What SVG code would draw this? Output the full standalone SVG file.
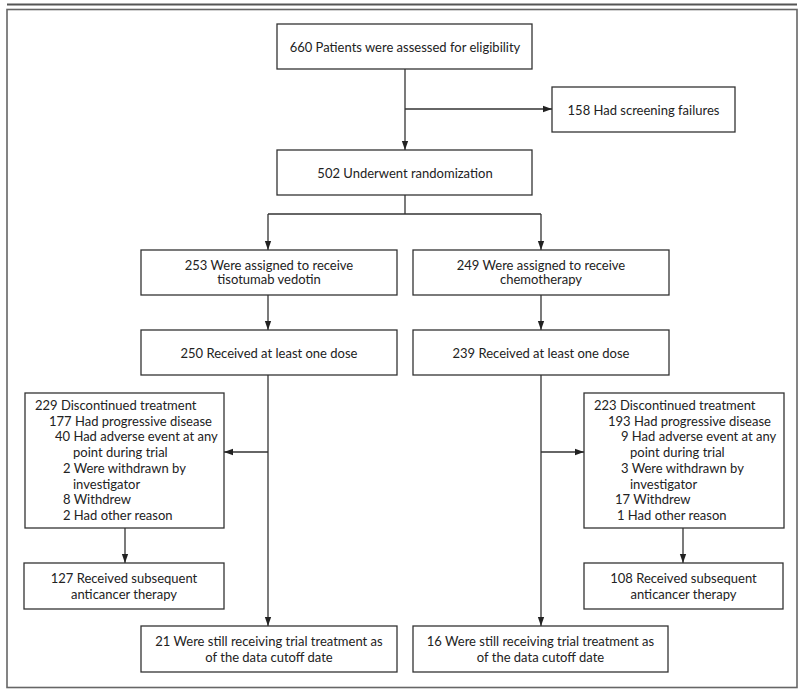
<svg xmlns="http://www.w3.org/2000/svg" width="802" height="690" viewBox="0 0 802 690">
<defs>
<marker id="ah" viewBox="0 0 10 10" refX="10" refY="5" markerWidth="9" markerHeight="9" markerUnits="userSpaceOnUse" orient="auto">
<path d="M0,1.5 L10,5 L0,8.5 z" fill="#222"/>
</marker>
</defs>
<style>
.bx{fill:#fff;stroke:#333;stroke-width:1.3}
.t{font-family:Lato,"Liberation Sans",sans-serif;font-size:13px;fill:#222}
.c{text-anchor:middle}
.ln{fill:none;stroke:#333;stroke-width:1.3}
.ar{fill:none;stroke:#333;stroke-width:1.3;marker-end:url(#ah)}
</style>
<rect width="802" height="690" fill="#fff"/>
<line x1="7" y1="4.5" x2="797" y2="4.5" stroke="#555" stroke-width="2"/>
<rect x="7" y="9.5" width="790" height="678" fill="none" stroke="#666" stroke-width="1.6"/>

<g id="connectors">
<line class="ar" x1="405" y1="69" x2="405" y2="150"/>
<line class="ar" x1="405" y1="109" x2="552" y2="109"/>
<polyline class="ln" points="405,195 405,214"/>
<line class="ln" x1="268" y1="214" x2="541" y2="214"/>
<line class="ar" x1="268" y1="214" x2="268" y2="250"/>
<line class="ar" x1="541" y1="214" x2="541" y2="250"/>
<line class="ar" x1="268" y1="295" x2="268" y2="330"/>
<line class="ar" x1="541" y1="295" x2="541" y2="330"/>
<line class="ar" x1="268" y1="375" x2="268" y2="626"/>
<line class="ar" x1="541" y1="375" x2="541" y2="626"/>
<line class="ar" x1="268" y1="452" x2="224" y2="452"/>
<line class="ar" x1="541" y1="452" x2="584" y2="452"/>
<line class="ar" x1="125" y1="528" x2="125" y2="563"/>
<line class="ar" x1="683" y1="528" x2="683" y2="563"/>
</g>

<g id="n660"><rect class="bx" x="277" y="24" width="255" height="45"/><text class="t c" x="405" y="51.5">660 Patients were assessed for eligibility</text></g>
<g id="n158"><rect class="bx" x="552" y="87" width="183" height="45"/><text class="t c" x="643.5" y="114.5">158 Had screening failures</text></g>
<g id="n502"><rect class="bx" x="277" y="150" width="255" height="45"/><text class="t c" x="405" y="177.5">502 Underwent randomization</text></g>
<g id="n253"><rect class="bx" x="141" y="250" width="256" height="45"/><text class="t c" x="269" y="269.5">253 Were assigned to receive</text><text class="t c" x="269" y="284">tisotumab vedotin</text></g>
<g id="n249"><rect class="bx" x="413" y="250" width="256" height="45"/><text class="t c" x="541" y="269.5">249 Were assigned to receive</text><text class="t c" x="541" y="284">chemotherapy</text></g>
<g id="n250"><rect class="bx" x="141" y="330" width="256" height="45"/><text class="t c" x="269" y="357.5">250 Received at least one dose</text></g>
<g id="n239"><rect class="bx" x="413" y="330" width="256" height="45"/><text class="t c" x="541" y="357.5">239 Received at least one dose</text></g>
<g id="n229"><rect class="bx" x="25" y="393" width="199" height="135"/>
<text class="t" x="35" y="410">229 Discontinued treatment</text>
<text class="t" x="49" y="425.7">177 Had progressive disease</text>
<text class="t" x="55" y="441.4">40 Had adverse event at any</text>
<text class="t" x="73" y="457.1">point during trial</text>
<text class="t" x="63" y="472.8">2 Were withdrawn by</text>
<text class="t" x="73" y="488.5">investigator</text>
<text class="t" x="63" y="504.2">8 Withdrew</text>
<text class="t" x="63" y="519.9">2 Had other reason</text>
</g>
<g id="n223"><rect class="bx" x="584" y="393" width="200" height="135"/>
<text class="t" x="594" y="410">223 Discontinued treatment</text>
<text class="t" x="608" y="425.7">193 Had progressive disease</text>
<text class="t" x="621" y="441.4">9 Had adverse event at any</text>
<text class="t" x="630" y="457.1">point during trial</text>
<text class="t" x="621" y="472.8">3 Were withdrawn by</text>
<text class="t" x="630" y="488.5">investigator</text>
<text class="t" x="615" y="504.2">17 Withdrew</text>
<text class="t" x="617" y="519.9">1 Had other reason</text>
</g>
<g id="n127"><rect class="bx" x="24" y="563" width="200" height="46"/><text class="t c" x="124" y="582.5">127 Received subsequent</text><text class="t c" x="124" y="598.5">anticancer therapy</text></g>
<g id="n108"><rect class="bx" x="584" y="563" width="199" height="46"/><text class="t c" x="683.5" y="582.5">108 Received subsequent</text><text class="t c" x="683.5" y="598.5">anticancer therapy</text></g>
<g id="n21"><rect class="bx" x="141" y="626" width="256" height="46"/><text class="t c" x="269" y="645.5">21 Were still receiving trial treatment as</text><text class="t c" x="269" y="661.5">of the data cutoff date</text></g>
<g id="n16"><rect class="bx" x="413" y="626" width="255" height="46"/><text class="t c" x="540.5" y="645.5">16 Were still receiving trial treatment as</text><text class="t c" x="540.5" y="661.5">of the data cutoff date</text></g>
</svg>
